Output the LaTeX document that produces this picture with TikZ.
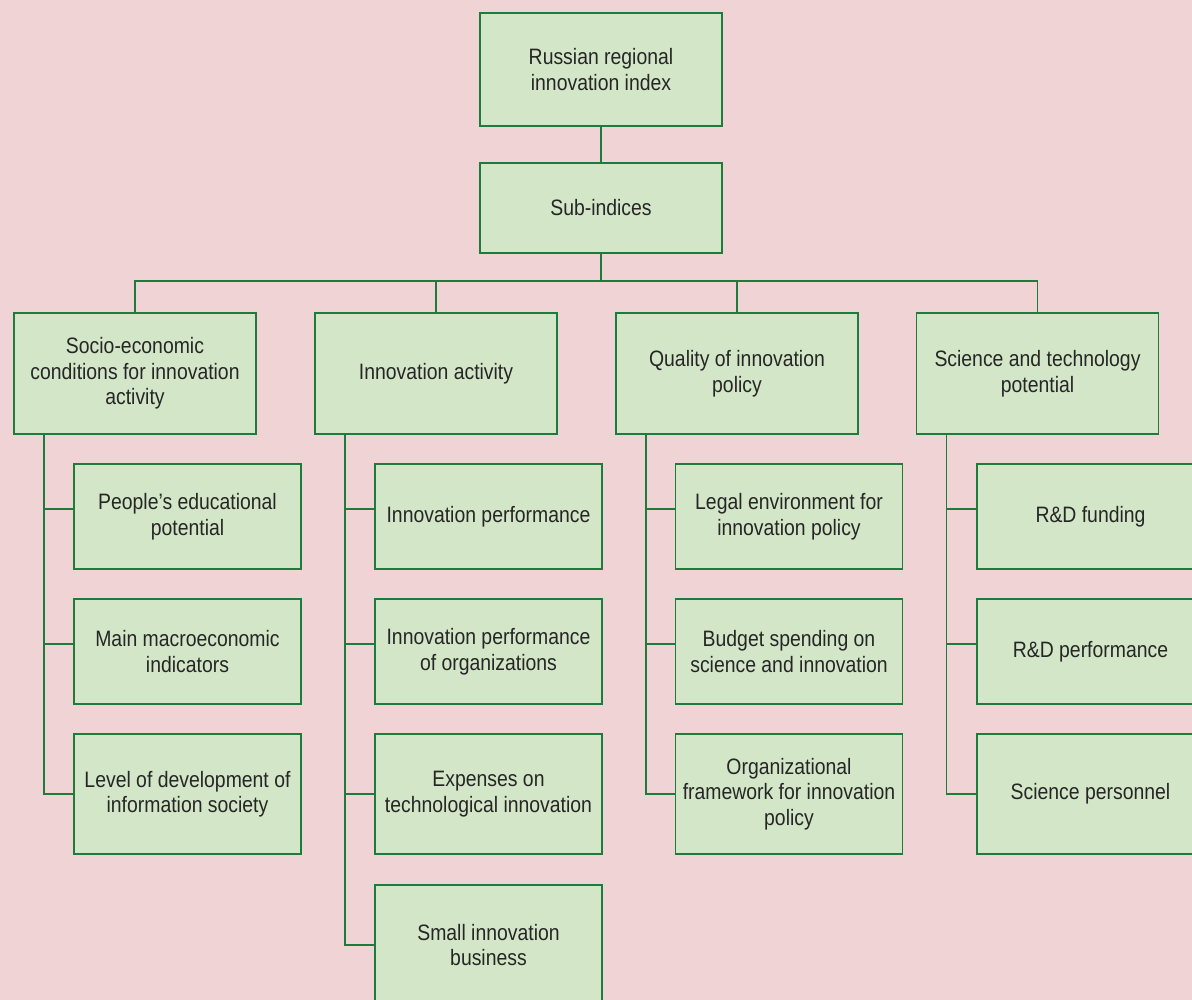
\documentclass[tikz,border=0pt]{standalone}
\usepackage{fontspec}
\setmainfont{Liberation Sans}[FakeStretch=0.87]
\usetikzlibrary{calc}
\definecolor{bgpink}{HTML}{F0D4D5}
\definecolor{boxfill}{HTML}{D3E6C7}
\definecolor{boxline}{HTML}{1D7C3C}
\definecolor{txt}{HTML}{262626}
\begin{document}
\begin{tikzpicture}[x=1pt,y=-1pt,
  box/.style={draw=boxline, fill=boxfill, line width=1.8pt, align=center,
    inner sep=2pt, outer sep=0pt, text=txt,
    font=\fontsize{22.3}{25.5}\selectfont},
  topbox/.style={box, minimum width=242pt},
  childbox/.style={box, minimum width=227pt},
  conn/.style={draw=boxline, line width=1.8pt}]
\useasboundingbox (0,0) rectangle (1192,1000);
\fill[bgpink] (0,0) rectangle (1192,1000);
\clip (0,0) rectangle (1192,1000);

\coordinate (hl) at (135,281);
\coordinate (hr) at (1037.5,281);

% top levels
\node[topbox, minimum height=113pt] (root) at (601,69.5) {Russian regional\\innovation index};
\node[topbox, minimum height=90pt] (sub) at (601,208) {Sub-indices};

\node[topbox, minimum height=121pt] (a) at (135,373.5) {Socio-economic\\conditions for innovation\\activity};
\node[topbox, minimum height=121pt] (b) at (436,373.5) {Innovation activity};
\node[topbox, minimum height=121pt] (c) at (737,373.5) {Quality of innovation\\policy};
\node[topbox, minimum height=121pt] (d) at (1037.5,373.5) {Science and technology\\potential};

% children column 1
\node[childbox, minimum height=105pt] (a1) at (187.5,516.5) {People’s educational\\potential};
\node[childbox, minimum height=105pt] (a2) at (187.5,651.5) {Main macroeconomic\\indicators};
\node[childbox, minimum height=120pt] (a3) at (187.5,794) {Level of development of\\information society};
% column 2
\node[childbox, minimum height=105pt] (b1) at (488.5,516.5) {Innovation performance};
\node[childbox, minimum height=105pt] (b2) at (488.5,651.5) {Innovation performance\\of organizations};
\node[childbox, minimum height=120pt] (b3) at (488.5,794) {Expenses on\\technological innovation};
\node[childbox, minimum height=120pt] (b4) at (488.5,945) {Small innovation\\business};
% column 3
\node[childbox, minimum height=105pt] (c1) at (789,516.5) {Legal environment for\\innovation policy};
\node[childbox, minimum height=105pt] (c2) at (789,651.5) {Budget spending on\\science and innovation};
\node[childbox, minimum height=120pt] (c3) at (789,794) {Organizational\\framework for innovation\\policy};
% column 4
\node[childbox, minimum height=105pt] (d1) at (1090.5,516.5) {R\&D funding};
\node[childbox, minimum height=105pt] (d2) at (1090.5,651.5) {R\&D performance};
\node[childbox, minimum height=120pt] (d3) at (1090.5,794) {Science personnel};

% connectors
\draw[conn] (root.south) -- (sub.north);
\draw[conn] (sub.south) -- (sub.south |- hl);
\draw[conn] (a.north) -- (hl) -- (hr) -- (d.north);
\draw[conn] (b.north) -- (b.north |- hl);
\draw[conn] (c.north) -- (c.north |- hl);

\foreach \p/\kids in {a/{a1/45,a2/45,a3/60}, b/{b1/45,b2/45,b3/60,b4/60}, c/{c1/45,c2/45,c3/60}, d/{d1/45,d2/45,d3/60}}{
  \coordinate (\p top) at ($(\p.south west)+(30,0)$);
  \foreach \k/\off in \kids {
    \draw[conn] (\p top) |- ($(\k.north west)+(0,\off)$);
  }
}
\end{tikzpicture}
\end{document}
